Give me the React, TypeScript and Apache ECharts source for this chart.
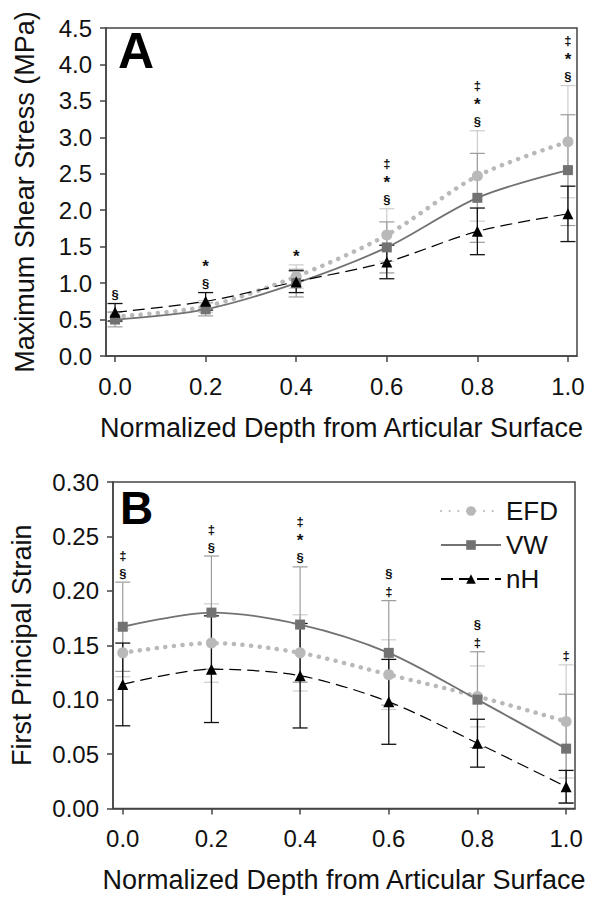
import React, { useEffect, useRef } from "react";
import * as echarts from "echarts";

const X_TICKS = [0, 0.2, 0.4, 0.6, 0.8, 1.0];

// Panel A: Maximum Shear Stress (MPa)
const EFD_A = [0.54, 0.68, 1.09, 1.66, 2.47, 2.94];
const VW_A = [0.5, 0.64, 1.0, 1.49, 2.17, 2.55];
const NH_A = [0.6, 0.75, 1.02, 1.29, 1.71, 1.95];
const EFD_ERR_A = [0.07, 0.08, 0.16, 0.36, 0.62, 0.77];
const VW_ERR_A = [0.1, 0.09, 0.19, 0.35, 0.61, 0.76];
const NH_ERR_A = [0.12, 0.12, 0.15, 0.23, 0.32, 0.38];
const ANN_A = ["§", "*\n§", "*", "‡\n*\n§", "‡\n*\n§", "‡\n*\n§"];

// Panel B: First Principal Strain
const EFD_B = [0.143, 0.152, 0.143, 0.123, 0.103, 0.08];
const VW_B = [0.167, 0.18, 0.169, 0.143, 0.1, 0.055];
const NH_B = [0.114, 0.128, 0.122, 0.098, 0.06, 0.02];
const EFD_ERR_B = [0.022, 0.036, 0.035, 0.032, 0.028, 0.052];
const VW_ERR_B = [0.041, 0.052, 0.053, 0.048, 0.044, 0.05];
const NH_ERR_B = [0.038, 0.049, 0.048, 0.039, 0.022, 0.015];
const ANN_B = ["‡\n§", "‡\n§", "‡\n*\n§", "§\n‡", "§\n‡", "‡"];

const SERIES_NAMES = ["EFD", "VW", "nH"];
const X_TITLE = "Normalized Depth from Articular Surface";
const Y_TITLE_A = "Maximum Shear Stress (MPa)";
const Y_TITLE_B = "First Principal Strain";

const FONT = "'Liberation Sans', Arial, Helvetica, sans-serif";
const AXIS_COLOR = "#444";
const TEXT_COLOR = "#111";

const EFD_COLOR = "#b9b9b9";
const EFD_BAR = "#cdcdcd";
const VW_COLOR = "#727272";
const VW_BAR = "#9c9c9c";
const NH_COLOR = "#000000";
const NH_BAR = "#111111";

const pts = (vals: number[]) => X_TICKS.map((x, i) => [x, vals[i]]);
const errPts = (vals: number[], errs: number[]) =>
  X_TICKS.map((x, i) => [x, vals[i] - errs[i], vals[i] + errs[i]]);
const annPts = (sets: [number[], number[]][]) =>
  X_TICKS.map((x, i) => [x, Math.max(...sets.map(([v, e]) => v[i] + e[i]))]);

function errorBarSeries(data: number[][], color: string, axis: number, width: number) {
  return {
    type: "custom",
    xAxisIndex: axis,
    yAxisIndex: axis,
    silent: true,
    z: 2,
    data,
    renderItem: (_p: any, api: any) => {
      const x = api.value(0);
      const top = api.coord([x, api.value(2)]);
      const bot = api.coord([x, api.value(1)]);
      const hw = 7.5;
      const style = { stroke: color, lineWidth: width, fill: "none" };
      return {
        type: "group",
        children: [
          { type: "line", shape: { x1: top[0], y1: top[1], x2: bot[0], y2: bot[1] }, style },
          { type: "line", shape: { x1: top[0] - hw, y1: top[1], x2: top[0] + hw, y2: top[1] }, style },
          { type: "line", shape: { x1: bot[0] - hw, y1: bot[1], x2: bot[0] + hw, y2: bot[1] }, style },
        ],
      };
    },
  };
}

function annotationSeries(data: number[][], texts: string[], axis: number, lh: number) {
  return {
    type: "custom",
    xAxisIndex: axis,
    yAxisIndex: axis,
    silent: true,
    z: 5,
    data,
    renderItem: (params: any, api: any) => {
      const p = api.coord([api.value(0), api.value(1)]);
      const marks = texts[params.dataIndex].split("\n");
      const n = marks.length;
      return {
        type: "group",
        children: marks.map((m, k) => {
          const cy = p[1] - 9 - (n - 1 - k) * lh;
          const star = m === "*";
          return {
            type: "text",
            x: p[0],
            y: star ? cy + 0.6 : cy,
            style: {
              text: m,
              fill: TEXT_COLOR,
              font: star ? `bold 17px ${FONT}` : `bold 13px ${FONT}`,
              align: "center",
              verticalAlign: "middle",
            },
          };
        }),
      };
    },
  };
}

function lineSeries(name: string, data: number[][], axis: number) {
  const common = {
    name,
    type: "line",
    xAxisIndex: axis,
    yAxisIndex: axis,
    data,
    smooth: 0.3,
    z: 3,
    silent: true,
  };
  if (name === "EFD") {
    return {
      ...common,
      symbol: "circle",
      symbolSize: 11,
      itemStyle: { color: EFD_COLOR },
      lineStyle: { color: EFD_COLOR, width: 4.5, type: [0.1, 8.5], cap: "round" },
    };
  }
  if (name === "VW") {
    return {
      ...common,
      symbol: "rect",
      symbolSize: 10,
      itemStyle: { color: VW_COLOR },
      lineStyle: { color: VW_COLOR, width: 1.8, type: "solid" },
    };
  }
  return {
    ...common,
    symbol: "triangle",
    symbolSize: 11,
    itemStyle: { color: NH_COLOR },
    lineStyle: { color: NH_COLOR, width: 1.2, type: [12, 6] },
  };
}

function xAxis(gridIndex: number, min: number) {
  return {
    type: "value",
    gridIndex,
    min,
    max: 1.02,
    name: X_TITLE,
    nameLocation: "middle",
    nameGap: 58,
    nameTextStyle: { fontSize: 27, color: TEXT_COLOR, fontFamily: FONT },
    axisLine: { show: true, onZero: false, lineStyle: { color: AXIS_COLOR, width: 1.5 } },
    axisTick: { show: true, length: 6, customValues: X_TICKS, lineStyle: { color: AXIS_COLOR, width: 1.5 } },
    axisLabel: {
      customValues: X_TICKS,
      formatter: (v: number) => v.toFixed(1),
      fontSize: 24,
      color: TEXT_COLOR,
      fontFamily: FONT,
      margin: 18,
    },
    splitLine: { show: false },
  };
}

function yAxis(gridIndex: number, max: number, interval: number, title: string, digits: number, gap: number, size: number) {
  return {
    type: "value",
    gridIndex,
    min: 0,
    max,
    interval,
    name: title,
    nameLocation: "middle",
    nameGap: gap,
    nameTextStyle: { fontSize: size, color: TEXT_COLOR, fontFamily: FONT },
    axisLine: { show: true, onZero: false, lineStyle: { color: AXIS_COLOR, width: 1.5 } },
    axisTick: { show: true, length: 6, lineStyle: { color: AXIS_COLOR, width: 1.5 } },
    axisLabel: {
      formatter: (v: number) => v.toFixed(digits),
      fontSize: 24,
      color: TEXT_COLOR,
      fontFamily: FONT,
      margin: 14,
    },
    splitLine: { show: false },
  };
}

export default function App() {
  const ref = useRef<HTMLDivElement>(null);

  useEffect(() => {
    document.body.style.margin = "0";
    if (!ref.current) return;
    const chart = echarts.init(ref.current, null, { renderer: "svg" });

    const option = {
      animation: false,
      backgroundColor: "#ffffff",
      textStyle: { fontFamily: FONT },
      grid: [
        { left: 106, top: 28, width: 471, height: 328, show: true, borderColor: AXIS_COLOR, borderWidth: 1.5 },
        { left: 105, top: 482, width: 470, height: 326.5, show: true, borderColor: AXIS_COLOR, borderWidth: 1.5 },
      ],
      xAxis: [xAxis(0, -0.02), xAxis(1, -0.022)],
      yAxis: [
        yAxis(0, 4.5, 0.5, Y_TITLE_A, 1, 68, 27),
        yAxis(1, 0.3, 0.05, Y_TITLE_B, 2, 78, 27),
      ],
      legend: {
        data: SERIES_NAMES,
        orient: "vertical",
        left: 435,
        top: 493,
        itemWidth: 60,
        itemHeight: 12,
        itemGap: 8,
        textStyle: { fontSize: 26, color: TEXT_COLOR, fontFamily: FONT, lineHeight: 25 },
        selectedMode: false,
      },
      graphic: [
        {
          type: "text",
          x: 118,
          y: 51,
          style: { text: "A", font: `bold 50px ${FONT}`, fill: "#000", verticalAlign: "middle", align: "left" },
        },
        {
          type: "text",
          x: 120,
          y: 508,
          style: { text: "B", font: `bold 46px ${FONT}`, fill: "#000", verticalAlign: "middle", align: "left" },
        },
      ],
      series: [
        errorBarSeries(errPts(EFD_A, EFD_ERR_A), EFD_BAR, 0, 1.2),
        errorBarSeries(errPts(VW_A, VW_ERR_A), VW_BAR, 0, 1.2),
        errorBarSeries(errPts(NH_A, NH_ERR_A), NH_BAR, 0, 1.3),
        lineSeries("EFD", pts(EFD_A), 0),
        lineSeries("VW", pts(VW_A), 0),
        lineSeries("nH", pts(NH_A), 0),
        annotationSeries(
          annPts([[EFD_A, EFD_ERR_A], [VW_A, VW_ERR_A], [NH_A, NH_ERR_A]]),
          ANN_A,
          0,
          18
        ),
        errorBarSeries(errPts(EFD_B, EFD_ERR_B), EFD_BAR, 1, 1.2),
        errorBarSeries(errPts(VW_B, VW_ERR_B), VW_BAR, 1, 1.2),
        errorBarSeries(errPts(NH_B, NH_ERR_B), NH_BAR, 1, 1.3),
        lineSeries("EFD", pts(EFD_B), 1),
        lineSeries("VW", pts(VW_B), 1),
        lineSeries("nH", pts(NH_B), 1),
        annotationSeries(
          annPts([[EFD_B, EFD_ERR_B], [VW_B, VW_ERR_B], [NH_B, NH_ERR_B]]),
          ANN_B,
          1,
          18
        ),
      ],
    };

    chart.setOption(option as any);
    return () => chart.dispose();
  }, []);

  return <div ref={ref} style={{ width: 598, height: 900 }} />;
}
